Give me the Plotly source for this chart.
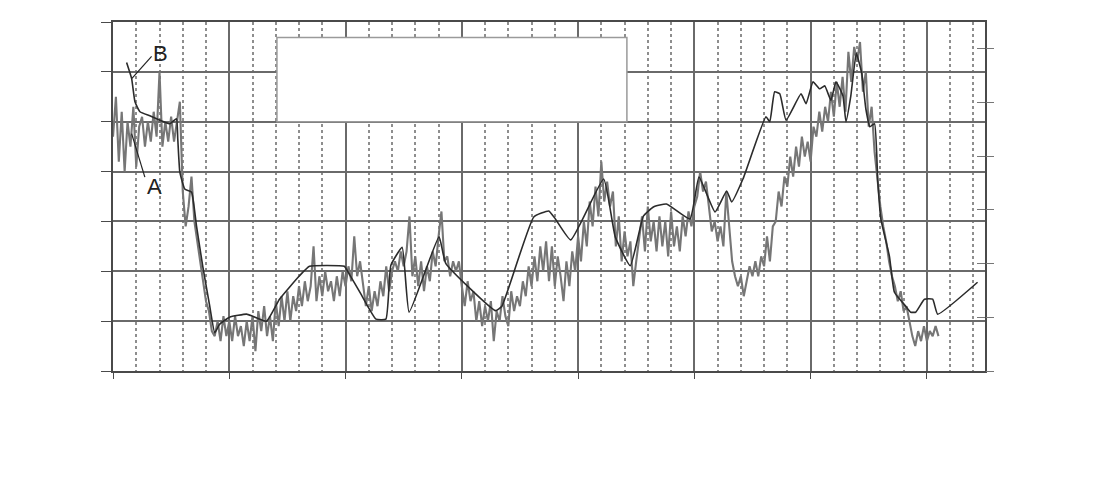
import plotly.graph_objects as go

# ---- data ----
# Series A: noisy gray signal sampled every 2.5 x-units starting at 0
a_step = 2.5
a_values = [
    47, 55, 42, 52, 40, 50, 45, 53, 41, 49,
    51, 45, 50, 46, 52, 47, 60, 45, 50, 46,
    51, 46, 50, 54, 36, 29, 33, 39, 30, 26,
    22, 19, 14, 12, 8, 7, 10, 6, 11, 7,
    10, 6, 11, 7, 9, 5, 10, 6, 11, 4,
    12, 8, 13, 7, 11, 6, 14, 9, 15, 10,
    16, 10, 15, 12, 17, 13, 18, 14, 17, 25,
    14, 19, 15, 20, 16, 18, 14, 19, 15, 20,
    17, 21, 18, 27, 19, 22, 17, 13, 17, 12,
    16, 13, 18, 15, 21, 16, 20, 22, 20, 24,
    21, 24, 31, 19, 23, 17, 22, 16, 21, 18,
    24, 21, 27, 32, 22, 23, 19, 22, 20, 22,
    17, 13, 18, 14, 16, 10, 14, 9, 13, 10,
    14, 6, 12, 10, 15, 11, 9, 16, 12, 15,
    13, 18, 15, 21, 17, 23, 18, 25, 20, 26,
    18, 25, 17, 23, 19, 14, 22, 17, 24, 20,
    27, 22, 30, 25, 34, 29, 37, 31, 42, 34,
    38, 33, 36, 25, 31, 22, 28, 23, 26, 17,
    22, 26, 31, 24, 33, 26, 30, 24, 31, 25,
    30, 23, 32, 25, 29, 24, 31, 27, 32, 29,
    33, 35, 40, 36, 38, 33, 28, 30, 26, 29,
    25, 36, 28, 22, 19, 17, 19, 15, 18, 21,
    19, 22, 19, 23, 21, 27, 22, 29, 30, 36,
    33, 39, 37, 43, 39, 45, 41, 47, 43, 46,
    42, 49, 47, 52, 48, 53, 50, 56, 51, 58,
    53, 59, 52, 64, 58, 65, 62, 66, 56, 60,
    49, 53, 44, 38, 33, 29, 26, 22, 19, 17,
    14, 16, 12, 13, 10, 7, 5, 8, 6, 9,
    6, 8, 7, 9, 7,
]
a_x = [a_step * i for i in range(len(a_values))]

# Series B: smoother dark line
b_x = [11.7, 16.0, 18.9, 23.2, 31.7, 48.9, 54.6, 55.7, 57.5, 61.7, 67.5,
       71.8, 77.2, 83.2, 87.5, 91.8, 100.3, 114.9, 120.1, 132.1, 143.2,
       160.4, 169.0, 199.0, 201.6, 213.3, 226.2, 234.7, 239.0, 248.7,
       254.7, 280.4, 286.2, 329.1, 334.5, 361.9, 374.8, 380.5, 393.7,
       422.0, 432.0, 444.9, 456.3, 464.8, 476.0, 496.3, 504.0, 517.8,
       527.8, 532.1, 541.8, 561.6, 564.9, 569.1, 573.5, 578.9, 591.8,
       596.1, 602.1, 607.8, 612.1, 617.5, 621.8, 627.8, 630.4, 634.6,
       639.3, 644.0, 647.5, 651.0, 655.0, 657.8, 660.4, 667.8, 672.1,
       681.8, 686.1, 690.4, 697.9, 705.0, 709.3, 743.6]
b_y = [61.9, 58.7, 54.0, 52.0, 51.2, 49.6, 50.6, 46.6, 39.9, 36.5, 35.9,
       29.1, 21.0, 13.0, 7.7, 9.4, 10.8, 11.4, 11.0, 10.0, 14.4,
       19.1, 21.0, 21.0, 20.1, 15.4, 10.4, 10.4, 21.2, 24.8,
       11.8, 26.9, 21.6, 12.1, 13.0, 30.9, 32.1, 30.5, 26.3,
       38.5, 26.9, 21.1, 31.1, 32.9, 33.5, 30.5, 38.9, 31.9,
       36.1, 33.9, 38.5, 51.0, 50.0, 56.0, 55.6, 50.3, 55.6,
       53.6, 58.0, 56.6, 57.2, 54.3, 58.0, 55.2, 50.0, 55.2,
       63.7, 59.7, 52.6, 49.0, 49.6, 37.9, 30.5, 23.0, 15.8,
       13.0, 11.8, 11.8, 14.4, 14.4, 11.4, 17.8]

x_range = [0, 750]
y_range = [0, 70]
y2_range = [0, 6.5]

fig = go.Figure()
fig.add_trace(go.Scatter(x=a_x, y=a_values, mode="lines", name="A",
                         line=dict(color="#767676", width=2.1),
                         hoverinfo="skip"))
fig.add_trace(go.Scatter(x=b_x, y=b_y, mode="lines", name="B",
                         line=dict(color="#2b2b2b", width=1.6, shape="spline", smoothing=0.4),
                         hoverinfo="skip"))
# invisible traces to anchor the right-hand tick axes
fig.add_trace(go.Scatter(x=[None], y=[None], yaxis="y2", showlegend=False, hoverinfo="skip"))
fig.add_trace(go.Scatter(x=[None], y=[None], yaxis="y3", showlegend=False, hoverinfo="skip"))

grid_major = "#6a6a6a"
grid_minor = "#8e8e8e"
frame = "#4a4a4a"

fig.update_layout(
    width=1092, height=466,
    margin=dict(l=105, r=115, t=14, b=103),
    paper_bgcolor="white", plot_bgcolor="white",
    showlegend=False,
    xaxis=dict(range=x_range, dtick=100, tick0=0, showticklabels=False,
               showgrid=True, gridcolor=grid_major, gridwidth=1.8,
               ticks="outside", ticklen=6, tickcolor=frame, tickwidth=1.2,
               showline=True, linecolor=frame, linewidth=1.6, mirror=True,
               zeroline=False,
               minor=dict(dtick=20, tick0=0, showgrid=True, gridcolor=grid_minor,
                          griddash="dot", gridwidth=1.7)),
    yaxis=dict(range=y_range, dtick=10, tick0=0, showticklabels=False,
               showgrid=True, gridcolor=grid_major, gridwidth=1.8,
               ticks="outside", ticklen=10, tickcolor=frame, tickwidth=1.2,
               showline=True, linecolor=frame, linewidth=1.6, mirror=True,
               zeroline=False),
    yaxis2=dict(range=y2_range, dtick=1, tick0=0, overlaying="y", side="right",
                anchor="x", showticklabels=False, showgrid=False, zeroline=False,
                ticks="outside", ticklen=8, tickcolor="#777", tickwidth=1.2),
    yaxis3=dict(range=y2_range, dtick=1, tick0=0, overlaying="y", side="right",
                anchor="x", showticklabels=False, showgrid=False, zeroline=False,
                ticks="inside", ticklen=8, tickcolor="#777", tickwidth=1.2),
)

# empty legend box
fig.add_shape(type="rect", xref="x", yref="y", x0=141, x1=442, y0=50.0, y1=66.9,
              fillcolor="white", line=dict(color="#9a9a9a", width=1.5), layer="above")

# labels with leader lines
fig.add_shape(type="line", xref="x", yref="y", x0=33.2, y0=63.1, x1=16.3, y1=58.7,
              line=dict(color="#222", width=1.2))
fig.add_shape(type="line", xref="x", yref="y", x0=27.4, y0=38.9, x1=16.0, y1=47.6,
              line=dict(color="#222", width=1.2))
fig.add_annotation(x=41.2, y=63.7, xref="x", yref="y", text="B", showarrow=False,
                   font=dict(family="Liberation Sans Narrow, Liberation Sans, Arial", size=22, color="#222"))
fig.add_annotation(x=36.0, y=37.1, xref="x", yref="y", text="A", showarrow=False,
                   font=dict(family="Liberation Sans Narrow, Liberation Sans, Arial", size=22, color="#222"))

fig.write_html("out.html")
